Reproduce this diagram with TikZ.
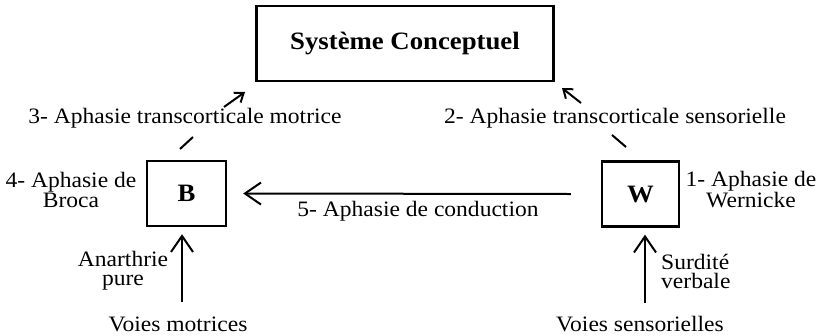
\documentclass[tikz,border=0pt]{standalone}
\usepackage{fontspec}
\setmainfont{Liberation Serif}[FakeStretch=1.07]
\usetikzlibrary{arrows.meta}
\begin{document}
\begin{tikzpicture}[x=1pt,y=-1pt,
  box/.style={draw,line width=2.4pt,rectangle,inner sep=0pt},
  lbl/.style={font=\fontsize{22}{19}\selectfont,inner sep=0pt,align=center},
  big/.style={line width=2pt,-{Straight Barb[length=16pt,width=22pt,line width=2pt]}},
  small/.style={line width=2pt,-{Straight Barb[length=8pt,width=12pt,line width=2pt]}},
  seg/.style={line width=2pt}]
\useasboundingbox (0,0) rectangle (818,335);
% boxes
\node[box,minimum width=297pt,minimum height=75pt,font=\fontsize{25}{28}\selectfont\bfseries] (sys) at (405,43.5) {Système Conceptuel};
\node[box,minimum width=79pt,minimum height=65pt,font=\fontsize{25}{28}\selectfont\bfseries] (B) at (186.5,193.5) {B};
\node[box,minimum width=77pt,minimum height=65pt,font=\fontsize{25}{28}\selectfont\bfseries] (W) at (640.5,194) {W};
% labels
\node[lbl] (l3) at (185,118) {3- Aphasie transcorticale motrice};
\node[lbl] (l2) at (615,118) {2- Aphasie transcorticale sensorielle};
\node[lbl] (l5) at (418,211) {5- Aphasie de conduction};
\node[lbl] (l4) at (71,190) {4- Aphasie de\\Broca};
\node[lbl] (l1) at (751,190) {1- Aphasie de\\Wernicke};
\node[lbl] (ap) at (123,271) {Anarthrie\\pure};
\node[lbl,align=left,anchor=west] (sv) at (661,271) {Surdité\\verbale};
\node[lbl] (vm) at (178,324) {Voies motrices};
\node[lbl] (vs) at (640,324) {Voies sensorielles};
% connector coordinates
\coordinate (b1) at (180,149);
\coordinate (b2) at (193,137);
\coordinate (b3) at (224,107);
\coordinate (b4) at (245,92);
\coordinate (w1) at (626,147);
\coordinate (w2) at (612,135);
\coordinate (w3) at (581,103);
\coordinate (w4) at (562,88);
\coordinate (bm) at (182,302);
\coordinate (ws) at (645,303);
% connectors
\draw[seg] (b1) -- (b2);
\draw[small] (b3) -- (b4);
\draw[seg] (w1) -- (w2);
\draw[small] (w3) -- (w4);
\draw[big] ([xshift=-30pt]W.west) -- ([xshift=16pt]B.east);
\draw[big,shorten >=7pt] (bm) -- (bm |- B.south);
\draw[big,shorten >=7pt] (ws) -- (ws |- W.south);
\end{tikzpicture}
\end{document}
